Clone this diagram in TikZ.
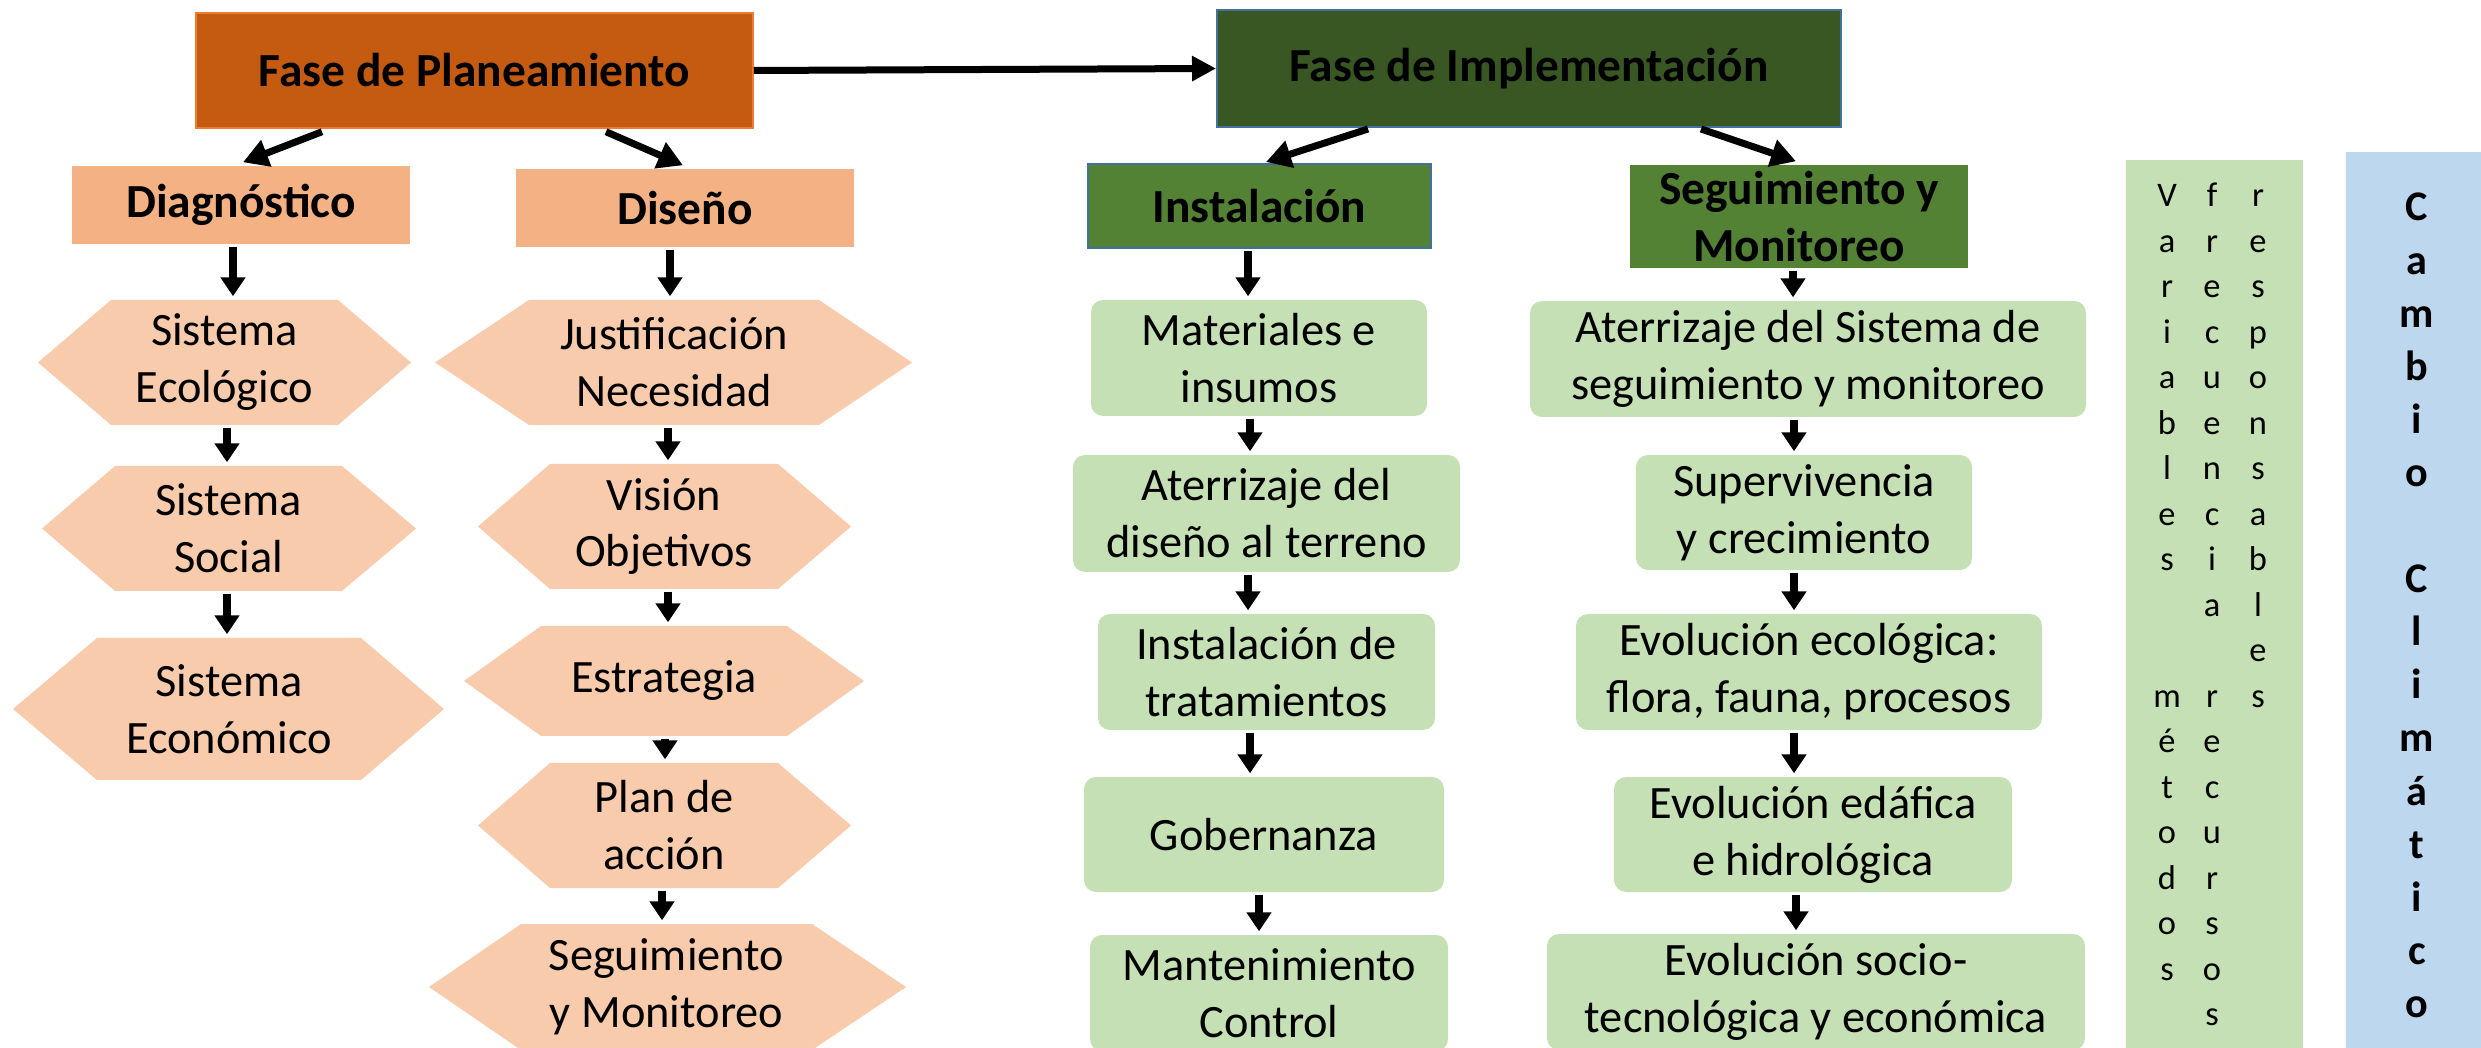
\documentclass[tikz,border=0pt]{standalone}
\usepackage{fontspec}
\setmainfont{Carlito}
\usetikzlibrary{arrows.meta,calc}
\definecolor{planC}{HTML}{C55A11}
\definecolor{planB}{HTML}{ED7D31}
\definecolor{implC}{HTML}{385723}
\definecolor{headG}{HTML}{548235}
\definecolor{borderB}{HTML}{41719C}
\definecolor{subC}{HTML}{F4B183}
\definecolor{hexC}{HTML}{F8CBAD}
\definecolor{boxG}{HTML}{C5E0B4}
\definecolor{blueC}{HTML}{BDD7EE}
\tikzset{
  body/.style={font=\fontsize{13.2}{16.2}\selectfont, align=center, text=black},
  hdr/.style={font=\bfseries\fontsize{13.5}{16.2}\selectfont, align=center, text=black, inner sep=0pt},
  gbox/.style={body, fill=boxG, rounded corners=1.2mm, inner sep=0pt},
  hextext/.style={body, inner sep=0pt},
  vlet/.style={font=\fontsize{9.8}{12}\selectfont, inner sep=0pt, anchor=base},
  clet/.style={font=\bfseries\fontsize{12}{14}\selectfont, inner sep=0pt, anchor=base},
  arr/.style={-{Triangle[width=2.4mm,length=1.9mm]}, line width=0.75mm, shorten >=0.3mm},
  darr/.style={-{Triangle[width=2.7mm,length=2.5mm]}, line width=0.7mm},
  harr/.style={-{Triangle[width=2.4mm,length=2.4mm]}, line width=0.7mm},
}
% name, x1, x2, y1, y2, text
\newcommand\gnode[6]{%
  \node[gbox, minimum width={(#3-#2)*0.1mm}, minimum height={(#5-#4)*0.1mm}] (#1) at ({(#2+#3)/2},{(#4+#5)/2}) {#6};}
% name, xl, xtl, xtr, xr, yt, yb, text
\newcommand\hexnode[8]{%
  \fill[hexC] (#2,{(#6+#7)/2}) -- (#3,#6) -- (#4,#6) -- (#5,{(#6+#7)/2}) -- (#4,#7) -- (#3,#7) -- cycle;
  \node[hextext, minimum width={(#4-#3)*0.1mm}, minimum height={(#7-#6)*0.1mm}] (#1) at ({(#3+#4)/2},{(#6+#7)/2}) {#8};}
% from, to, dx
\newcommand\vconn[3]{%
  \draw[arr] ([shift={(#3,2)}]#1.south) coordinate (tmp) -- (tmp |- #2.north);}
\begin{document}
\begin{tikzpicture}[x=0.1mm,y=-0.1mm]
\useasboundingbox (0,0) rectangle (2481,1048);
\clip (0,0) rectangle (2481,1048);

% headers
\node[hdr, fill=planC, draw=planB, line width=0.15mm, minimum width=55.7mm, minimum height=11.5mm] (plan) at (474.5,70.5) {Fase de Planeamiento};
\node[hdr, fill=implC, draw=borderB, line width=0.2mm, minimum width=62.4mm, minimum height=11.7mm] (impl) at (1529,68.5) {Fase de Implementación};
\node[hdr, fill=subC, minimum width=33.8mm, minimum height=7.8mm] (diag) at (241,205) {Diagnóstico};
\node[hdr, fill=subC, minimum width=33.8mm, minimum height=7.8mm] (dise) at (685,208) {Diseño};
\node[hdr, fill=headG, draw=borderB, line width=0.2mm, minimum width=34.3mm, minimum height=8.4mm] (inst) at (1259.5,206) {Instalación};
\node[hdr, fill=headG, minimum width=33.8mm, minimum height=10.3mm] (segh) at (1799,216.5) {Seguimiento y\\Monitoreo};

% hexagons
\hexnode{eco}{38}{111}{338}{411}{300}{425}{Sistema\\Ecológico}
\hexnode{soc}{42}{115}{342}{416}{466}{591}{Sistema\\Social}
\hexnode{econ}{13}{97}{361}{444}{638}{780}{Sistema\\Económico}
\hexnode{just}{435}{529}{819}{912}{300}{425}{Justificación\\Necesidad}
\hexnode{vis}{478}{550}{778}{851}{464}{589}{Visión\\Objetivos}
\hexnode{estr}{464}{541}{787}{864}{626}{736}{Estrategia}
\hexnode{pacc}{478}{550}{778}{851}{763}{888}{Plan de\\acción}
\hexnode{segd}{429}{521}{812}{906}{924}{1050}{Seguimiento\\y Monitoreo}

% green boxes
\gnode{mat}{1091}{1427}{300}{416}{Materiales e\\insumos}
\gnode{ater}{1073}{1460}{455}{572}{Aterrizaje del\\diseño al terreno}
\gnode{trat}{1098}{1435}{614}{730}{Instalación de\\tratamientos}
\gnode{gob}{1084}{1444}{777}{892}{Gobernanza}
\gnode{mant}{1090}{1448}{935}{1051}{Mantenimiento\\Control}
\gnode{atsis}{1530}{2086}{301}{417}{Aterrizaje del Sistema de\\seguimiento y monitoreo}
\gnode{sup}{1636}{1972}{455}{570}{Supervivencia\\y crecimiento}
\gnode{evoeco}{1576}{2042}{614}{730}{Evolución ecológica:\\flora, fauna, procesos}
\gnode{evoeda}{1614}{2012}{777}{892}{Evolución edáfica\\e hidrológica}
\gnode{evosoc}{1547}{2085}{934}{1050}{Evolución socio-\\tecnológica y económica}

% side columns
\node[fill=boxG, inner sep=0pt, minimum width=17.7mm, minimum height=90mm, anchor=north west] (vars) at (2125,159) {};
\node[fill=blueC, inner sep=0pt, minimum width=13.6mm, minimum height=90mm, anchor=north west] (cc) at (2345,151) {};
\foreach \l [count=\i] in {V,a,r,i,a,b,l,e,s,{},{},m,é,t,o,d,o,s}
  \node[vlet] (va\i) at (2167,{206.6+45.5*(\i-1)}) {\l};
\foreach \l [count=\i] in {f,r,e,c,u,e,n,c,i,a,{},r,e,c,u,r,s,o,s}
  \node[vlet] (vb\i) at (2212,{206.6+45.5*(\i-1)}) {\l};
\foreach \l [count=\i] in {r,e,s,p,o,n,s,a,b,l,e,s}
  \node[vlet] (vc\i) at (2258,{206.6+45.5*(\i-1)}) {\l};
\foreach \l [count=\i] in {C,a,m,b,i,o,{},C,l,i,m,á,t,i,c,o}
  \node[clet] (cl\i) at (2417,{221+53.1*(\i-1)}) {\l};

% connectors
\draw[harr] (plan.east) -- (impl.west);
\draw[darr] ([shift={(-152.5,3)}]plan.south) -- ([shift={(2,-3)}]diag.north);
\draw[darr] ([shift={(131.5,3)}]plan.south) -- ([shift={(-2,-3)}]dise.north);
\draw[darr] ([shift={(-161,1)}]impl.south) -- ([shift={(6.5,-1)}]inst.north);
\draw[darr] ([shift={(172,1)}]impl.south) -- ([shift={(-3,-3)}]segh.north);

\vconn{diag}{eco}{-8}
\vconn{eco}{soc}{2.5}
\vconn{soc}{econ}{-1.5}
\vconn{dise}{just}{-15}
\vconn{just}{vis}{-6}
\vconn{vis}{estr}{4}
\vconn{estr}{pacc}{1}
\vconn{pacc}{segd}{-2}
\vconn{inst}{mat}{-11.5}
\vconn{mat}{ater}{-9}
\vconn{ater}{trat}{-18.5}
\vconn{trat}{gob}{-16.5}
\vconn{gob}{mant}{-5}
\vconn{segh}{atsis}{-6}
\vconn{atsis}{sup}{-14}
\vconn{sup}{evoeco}{-10}
\vconn{evoeco}{evoeda}{-15}
\vconn{evoeda}{evosoc}{-17}
\end{tikzpicture}
\end{document}
